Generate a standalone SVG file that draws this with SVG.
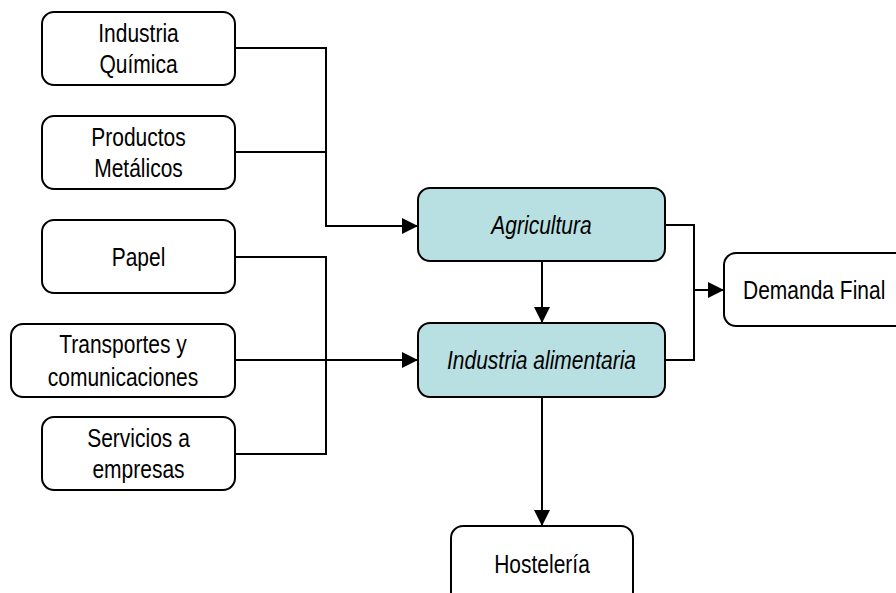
<svg xmlns="http://www.w3.org/2000/svg" width="896" height="593" viewBox="0 0 896 593">
<style>
.n{fill:#ffffff;stroke:#000;stroke-width:2}
.h{fill:#b8e0e3;stroke:#000;stroke-width:2}
.t{font-family:"Liberation Sans",Arial,sans-serif;font-size:25px;fill:#000;text-anchor:middle}
.i{font-style:italic}
.c{fill:none;stroke:#000;stroke-width:2}
</style>
<defs>
<marker id="a" viewBox="0 0 10 10" refX="10" refY="5" markerWidth="17" markerHeight="16" markerUnits="userSpaceOnUse" orient="auto">
<path d="M0,0 L10,5 L0,10 z" fill="#000"/>
</marker>
</defs>
<rect width="896" height="593" fill="#fff"/>
<g id="connectors">
<path class="c" d="M235,48 H326 V226 H418" marker-end="url(#a)"/>
<path class="c" d="M235,152 H326"/>
<path class="c" d="M235,257 H326 V454 H235"/>
<path class="c" d="M235,360 H418" marker-end="url(#a)"/>
<path class="c" d="M542,261 V323" marker-end="url(#a)"/>
<path class="c" d="M665,225 H694 V360 H665"/>
<path class="c" d="M694,290 H724" marker-end="url(#a)"/>
<path class="c" d="M542,397 V526" marker-end="url(#a)"/>
</g>
<g id="quimica"><rect class="n" x="42" y="12" width="193" height="73" rx="12"/><text class="t" transform="translate(138.5,42) scale(0.84,1)">Industria</text><text class="t" transform="translate(138.5,73) scale(0.84,1)">Química</text></g>
<g id="metalicos"><rect class="n" x="42" y="116" width="193" height="73" rx="12"/><text class="t" transform="translate(138.5,146) scale(0.84,1)">Productos</text><text class="t" transform="translate(138.5,177) scale(0.84,1)">Metálicos</text></g>
<g id="papel"><rect class="n" x="42" y="220" width="193" height="73" rx="12"/><text class="t" transform="translate(138.5,266) scale(0.84,1)">Papel</text></g>
<g id="transportes"><rect class="n" x="11" y="324" width="224" height="73" rx="12"/><text class="t" transform="translate(123,353) scale(0.84,1)">Transportes y</text><text class="t" transform="translate(123,386) scale(0.84,1)">comunicaciones</text></g>
<g id="servicios"><rect class="n" x="42" y="417" width="193" height="73" rx="12"/><text class="t" transform="translate(138.5,447) scale(0.84,1)">Servicios a</text><text class="t" transform="translate(138.5,478) scale(0.84,1)">empresas</text></g>
<g id="agricultura"><rect class="h" x="418" y="188" width="247" height="73" rx="12"/><text class="t i" transform="translate(541.5,234) scale(0.84,1)">Agricultura</text></g>
<g id="alimentaria"><rect class="h" x="418" y="323" width="247" height="74" rx="12"/><text class="t i" transform="translate(541.5,369) scale(0.84,1)">Industria alimentaria</text></g>
<g id="demanda"><rect class="n" x="724" y="253" width="200" height="73" rx="12"/><text class="t" transform="translate(743,299) scale(0.84,1)" style="text-anchor:start">Demanda Final</text></g>
<g id="hosteleria"><rect class="n" x="451" y="526" width="182" height="90" rx="12"/><text class="t" transform="translate(542,573) scale(0.84,1)">Hostelería</text></g>
</svg>
